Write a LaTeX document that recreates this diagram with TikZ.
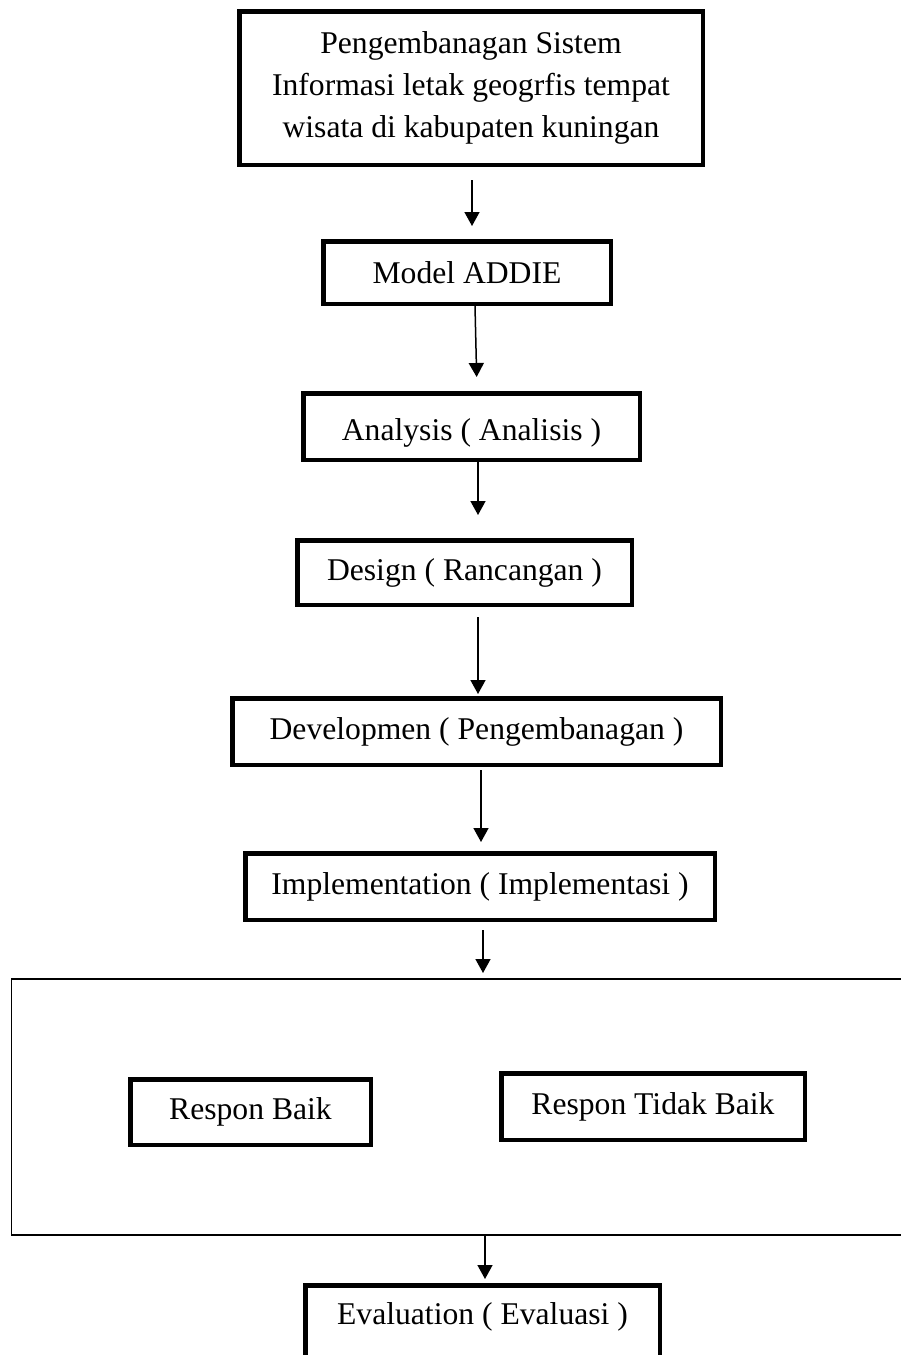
\documentclass[tikz,border=0pt]{standalone}
\usepackage{fontspec}
\setmainfont{Liberation Serif}
\usetikzlibrary{arrows.meta}
\begin{document}
\begin{tikzpicture}[scale=1.0,
  font=\fontsize{18}{23.8}\selectfont,
  >={Triangle[length=0.28cm,width=0.3cm]},
  kotak/.style={draw,line width=0.09cm,inner sep=0pt},
  panah/.style={->,line width=0.03cm}]
\useasboundingbox (0,0) rectangle (18.02,-27.1);
\clip (0,0) rectangle (18.02,-27.1);
\node[kotak,minimum width=9.27cm,minimum height=3.07cm,align=center] (atas) at (9.42,-1.76)
  {Pengembanagan Sistem\\Informasi letak geogrfis tempat\\wisata di kabupaten kuningan};
\node[kotak,minimum width=5.75cm,minimum height=1.25cm] (model) at (9.34,-5.45) {Model ADDIE};
\node[kotak,minimum width=6.73cm,minimum height=1.33cm,label={[yshift=-0.12cm]center:Analysis ( Analisis )}] (analisis) at (9.43,-8.53) {};
\node[kotak,minimum width=6.69cm,minimum height=1.29cm] (desain) at (9.29,-11.45) {Design ( Rancangan )};
\node[kotak,minimum width=9.77cm,minimum height=1.33cm] (develop) at (9.53,-14.63) {Developmen ( Pengembanagan )};
\node[kotak,minimum width=9.39cm,minimum height=1.33cm] (implement) at (9.6,-17.73) {Implementation ( Implementasi )};
\node[draw,line width=0.04cm,minimum width=18.96cm,minimum height=5.12cm] (respon) at (9.71,-22.14) {};
\node[kotak,minimum width=4.81cm,minimum height=1.31cm] (baik) at (5.01,-22.24) {Respon Baik};
\node[kotak,minimum width=6.07cm,minimum height=1.33cm] (tidakbaik) at (13.06,-22.13) {Respon Tidak Baik};
\node[kotak,minimum width=7.09cm,minimum height=1.65cm,label={[yshift=0.19cm]center:Evaluation ( Evaluasi )}] (evaluasi) at (9.65,-26.53) {};
\draw[panah,shorten <=0.26cm,shorten >=0.26cm] ([xshift=0.02cm]atas.south) -- ([xshift=0.02cm]atas.south |- model.north);
\draw[panah,shorten >=0.28cm] ([xshift=0.16cm]model.south) -- ([xshift=0.11cm]analisis.north);
\draw[panah,shorten >=0.46cm] ([xshift=0.13cm]analisis.south) -- ([xshift=0.13cm]analisis.south |- desain.north);
\draw[panah,shorten <=0.2cm,shorten >=0.04cm] ([xshift=0.27cm]desain.south) -- ([xshift=0.27cm]desain.south |- develop.north);
\draw[panah,shorten <=0.06cm,shorten >=0.18cm] ([xshift=0.09cm]develop.south) -- ([xshift=0.09cm]develop.south |- implement.north);
\draw[panah,shorten <=0.16cm,shorten >=0.1cm] ([xshift=0.06cm]implement.south) -- ([xshift=0.06cm]implement.south |- respon.north);
\draw[panah,shorten >=0.08cm] ([xshift=0.05cm]evaluasi.north |- respon.south) -- ([xshift=0.05cm]evaluasi.north);
\end{tikzpicture}
\end{document}
